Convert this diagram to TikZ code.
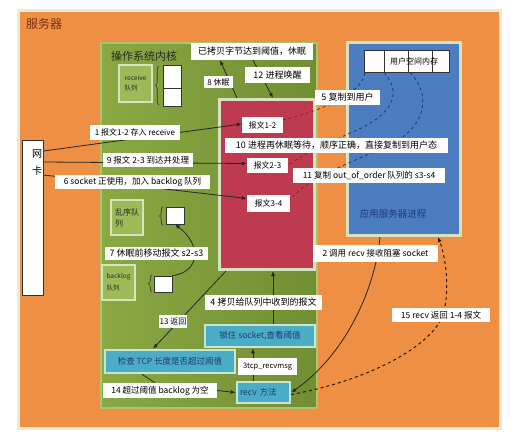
\documentclass[tikz,border=0pt]{standalone}
\usepackage{fontspec}
\setmainfont{Noto Sans CJK SC}
\usetikzlibrary{arrows.meta,decorations.pathreplacing}
\pgfdeclarelayer{bg}
\pgfdeclarelayer{edges}
\pgfsetlayers{bg,edges,main}
\newcommand\myfs[1]{\fontsize{#1}{#1}\selectfont}
\definecolor{orng}{HTML}{EF8F43}
\definecolor{obord}{HTML}{E6ECD6}
\definecolor{gA}{HTML}{8AA943}
\definecolor{gB}{HTML}{9CBA56}
\definecolor{gC}{HTML}{718E33}
\definecolor{gbord}{HTML}{A9C56F}
\definecolor{redb}{HTML}{BE3B4F}
\definecolor{lbord}{HTML}{D6E3C1}
\definecolor{blueb}{HTML}{4C7DC0}
\definecolor{cyanb}{HTML}{4BACC6}
\definecolor{cbord}{HTML}{C9E6D4}
\definecolor{qfill}{HTML}{9BBB59}
\definecolor{titlec}{HTML}{7A2E12}
\definecolor{navy}{HTML}{1E3A78}
\definecolor{dred}{HTML}{8E1B22}
\definecolor{dblue}{HTML}{1D2F6E}
\definecolor{darkln}{HTML}{2A1408}
\newcommand\dcurves{%
  \draw ([xshift=1pt]t1.south west) .. controls (362,92) and (330,108) .. ([yshift=5pt]m12.east);
  \draw (t2.south west) .. controls (402,92) and (395,115) .. (350,133) .. controls (320,147) and (300,156) .. (m23.east);
  \draw ([xshift=2pt]t3.south west) .. controls (432,95) and (425,125) .. (395,142) .. controls (360,160) and (310,175) .. ([yshift=4pt]m34.east);
}
\begin{document}
\begin{tikzpicture}[x=1pt,y=-1pt,
  lbl/.style={fill=white, inner sep=1pt, font=\myfs{9}, text=black},
  panel/.style={anchor=north west, inner sep=0pt, line width=3pt},
  cbox/.style={fill=cyanb, draw=cbord, line width=2.5pt, inner sep=2pt, font=\myfs{8.5}, text=navy},
  qbox/.style={fill=qfill, draw=lbord, line width=2.5pt, inner sep=2pt, align=left, text=black!85},
  wbox/.style={fill=white, draw=black!80, line width=0.6pt, inner sep=0pt},
  arr/.style={draw=black!85, line width=0.8pt, -{Latex[length=5pt,width=4pt]}},
  plain/.style={draw=black!85, line width=0.8pt},
  brc/.style={draw=black!80, line width=0.6pt, decorate, decoration={brace,amplitude=3.5pt}}]
\useasboundingbox (0,0) rectangle (515,437);
\begin{pgfonlayer}{bg}
  \fill[white] (0,0) rectangle (515,437);
  \node[panel, draw=obord, fill=orng, minimum width=482pt, minimum height=418pt] (server) at (17,9) {};
  \node[panel, draw=gbord, line width=1.5pt, left color=gA, middle color=gB, right color=gC, minimum width=216pt, minimum height=365pt] (kernel) at (100,42) {};
  \node[panel, draw=lbord, fill=redb, minimum width=95pt, minimum height=170pt] (red) at (218,98) {};
  \node[panel, draw=lbord, fill=blueb, minimum width=113pt, minimum height=193pt] (blue) at (346,41) {};
\end{pgfonlayer}

% titles
\node[font=\myfs{12}, text=titlec, anchor=west, inner sep=0pt] (title) at (26,24) {服务器};
\node[font=\myfs{11}, text=black!85, anchor=west, inner sep=0pt] (kern) at (111,56) {操作系统内核};
\node[font=\myfs{9.5}, text=navy, inner sep=0pt] (apptitle) at (393,214) {应用服务器进程};

% user space table
\node[wbox, anchor=north west, minimum width=20pt, minimum height=22pt] (t1) at (364,50) {};
\node[wbox, anchor=north west, minimum width=24pt, minimum height=22pt] (t2) at (384,50) {};
\node[wbox, anchor=north west, minimum width=24pt, minimum height=22pt] (t3) at (408,50) {};
\node[wbox, anchor=north west, minimum width=17pt, minimum height=22pt] (t4) at (432,50) {};
\node[font=\myfs{8}, inner sep=0pt] (utext) at (414,61) {用户空间内存};

% network card
\node[wbox, anchor=north west, minimum width=21pt, minimum height=155pt] (nic) at (22,140) {};
\node[font=\myfs{10}, inner sep=0pt] (nicw) at (37,154) {网};
\node[font=\myfs{10}, inner sep=0pt] (nick) at (37,171) {卡};

% queues
\node[qbox, minimum width=33pt, minimum height=37pt, font=\myfs{6.5}] (recvq) at (135.5,83.5) {receive\\[4pt]队列};
\node[wbox, minimum width=18pt, minimum height=23pt] (rq1) at (172,76.5) {};
\node[wbox, minimum width=18pt, minimum height=18pt] (rq2) at (172,97) {};
\draw[brc] (159,105) -- (159,66);

\node[qbox, minimum width=32pt, minimum height=35pt, font=\myfs{8}] (ooq) at (127,217.5) {乱序队\\[3pt]列};
\node[wbox, minimum width=18pt, minimum height=17pt] (qq) at (175,215.5) {};
\draw[brc] (163,225) -- (163,207);

\node[qbox, minimum width=33pt, minimum height=35pt, font=\myfs{6.5}] (blq) at (118.5,282.5) {backlog\\[4pt]队列};
\node[wbox, minimum width=18pt, minimum height=16pt] (bq) at (163,284) {};
\draw[brc] (152,292) -- (152,275);

% segments in red box
\node[lbl, font=\myfs{8}, minimum width=41pt, minimum height=16pt] (m12) at (262.5,125) {报文1-2};
\node[lbl, font=\myfs{8}, minimum width=41pt, minimum height=15pt] (m23) at (267.5,165.5) {报文2-3};
\node[lbl, font=\myfs{8}, minimum width=43pt, minimum height=17pt] (m34) at (268.5,203.5) {报文3-4};

% bottom boxes
\node[cbox, minimum width=110pt, minimum height=22pt] (lock) at (260,336) {锁住 socket,查看阈值};
\node[cbox, minimum width=130pt, minimum height=23pt] (check) at (170,361.5) {检查 TCP 长度是否超过阈值};
\node[cbox, text width=47pt, align=left, inner sep=3pt, minimum height=21pt] (recv) at (263.5,392.5) {recv 方法};

% labels
\node[lbl, minimum width=122pt, minimum height=17pt] (thresh) at (252,51.5) {已拷贝字节达到阈值，休眠};
\node[lbl, font=\myfs{8}, minimum width=29pt, minimum height=12pt] (L8) at (218.5,82) {8 休眠};
\node[lbl, minimum width=65pt, minimum height=16pt] (L12) at (277.5,75) {12 进程唤醒};
\node[lbl, minimum width=65pt, minimum height=15pt] (L5) at (347.5,97.5) {5 复制到用户};
\node[lbl, font=\myfs{8}, minimum width=90pt, minimum height=15pt] (L1) at (135,132.5) {1 报文1-2 存入 receive};
\node[lbl, font=\myfs{8.5}, minimum width=90pt, minimum height=14pt] (L9) at (148,160) {9 报文 2-3 到达并处理};
\node[lbl, font=\myfs{8.5}, minimum width=155pt, minimum height=14pt] (L6) at (132.5,181.5) {6 socket 正使用，加入 backlog 队列};
\node[lbl, minimum width=223pt, minimum height=15pt] (L10) at (336.5,145.5) {10 进程再休眠等待，顺序正确，直接复制到用户态};
\node[lbl, font=\myfs{8.5}, minimum width=152pt, minimum height=15pt] (L11) at (369,175.5) {11 复制 out\_of\_order 队列的 s3-s4};
\node[lbl, minimum width=103pt, minimum height=13pt] (L7) at (156.5,253.5) {7 休眠前移动报文 s2-s3};
\node[lbl, font=\myfs{8.5}, minimum width=125pt, minimum height=17pt] (L2) at (375.5,253.5) {2 调用 recv 接收阻塞 socket};
\node[lbl, minimum width=117pt, minimum height=15pt] (L4) at (263.5,302.5) {4 拷贝给队列中收到的报文};
\node[lbl, font=\myfs{8}, minimum width=28pt, minimum height=13pt] (L13) at (173,321.5) {13 返回};
\node[lbl, font=\myfs{8.5}, minimum width=98pt, minimum height=14pt] (L15) at (441,315) {15 recv 返回 1-4 报文};
\node[lbl, font=\myfs{7.5}, minimum width=59pt, minimum height=17pt] (L3) at (267.5,366.5) {3tcp\_recvmsg};
\node[lbl, font=\myfs{8.5}, minimum width=114pt, minimum height=15pt] (L14) at (160,390.5) {14 超过阈值 backlog 为空};

\begin{pgfonlayer}{edges}
  \draw[arr] ([yshift=-11pt]nic.north east) -- ([yshift=1pt]m12.west);
  \draw[arr] ([yshift=-22pt]nic.north east) -- ([yshift=2pt]m23.west);
  \draw[arr] ([yshift=-35pt]nic.north east) -- ([yshift=5pt]m34.west);
  \draw[arr] ([xshift=19pt]red.north west) -- ([xshift=-32pt]thresh.south);
  \draw[arr] ([xshift=1pt]thresh.south) -- ([xshift=55pt]red.north west);
  \draw[arr] (bq.north east) .. controls (200,272) and (202,245) .. (qq.south);
  \draw[arr] ([xshift=8pt]red.south west) -- ([xshift=-17pt]check.north);
  \draw[arr] ([xshift=13pt]lock.north) -- ([xshift=55pt]red.south west);
  \draw[arr] ([xshift=-10.5pt]recv.north) -- ([xshift=-7pt]lock.south);
  \draw[plain] ([xshift=-28pt]check.south) -- ([xshift=-5pt]L14.north);
  \draw[arr] (L14.east) -- (recv.west);
  \draw[arr] ([xshift=34pt]blue.south west) .. controls (375,290) and (345,355) .. (recv.east);
  \draw[darkln, line width=1pt, dashed, -{Latex[length=5pt,width=4pt]}] ([yshift=-2pt]recv.east) .. controls (370,380) and (435,345) .. (444,312) .. controls (450,285) and (445,255) .. ([xshift=92pt]blue.south west);
  \begin{scope}
    \clip (0,0) rectangle (322,437);
    \begin{scope}[dred, dashed, line width=0.7pt]
      \dcurves
    \end{scope}
  \end{scope}
  \begin{scope}
    \clip (322,0) rectangle (515,437);
    \begin{scope}[dblue, dashed, line width=0.7pt]
      \dcurves
    \end{scope}
  \end{scope}
\end{pgfonlayer}
\end{tikzpicture}
\end{document}
